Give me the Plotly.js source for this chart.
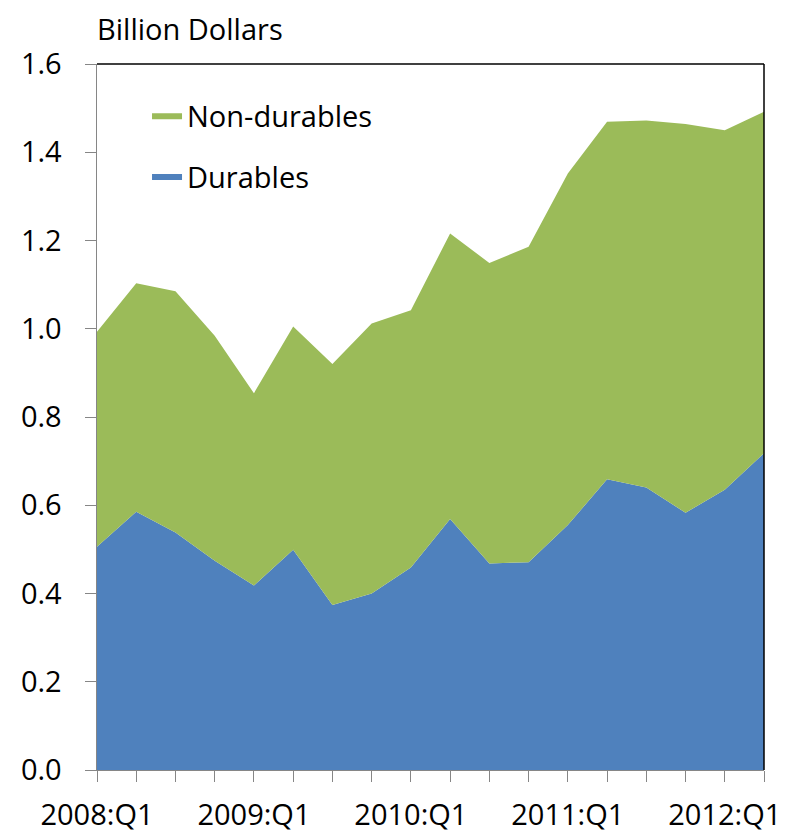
<!DOCTYPE html>
<html>
<head>
<meta charset="utf-8">
<script src="https://cdn.plot.ly/plotly-3.0.1.min.js"></script>
<style>html,body{margin:0;padding:0;background:#fff;}#chart{width:789px;height:834px;}</style>
</head>
<body>
<div id="chart"></div>
<script>
const quarters = ["2008:Q1","2008:Q2","2008:Q3","2008:Q4","2009:Q1","2009:Q2","2009:Q3","2009:Q4",
  "2010:Q1","2010:Q2","2010:Q3","2010:Q4","2011:Q1","2011:Q2","2011:Q3","2011:Q4","2012:Q1","2012:Q2"];
const durables = [0.506,0.585,0.538,0.474,0.418,0.499,0.374,0.400,0.459,0.569,0.468,0.471,0.555,0.659,0.640,0.583,0.635,0.718];
const nonDurables = [0.487,0.518,0.547,0.510,0.436,0.506,0.546,0.612,0.583,0.647,0.681,0.715,0.797,0.810,0.832,0.881,0.815,0.774];
const tickLabels = quarters.map((q,i)=> i%4===0 ? q : "");

const FONT = "'Open Sans', Lato, sans-serif";
const traces = [
  {x: quarters, y: durables, name: "Durables", type: "scatter", mode: "none", legendgroup: "d", legendrank: 2,
   stackgroup: "one", fillcolor: "#4F81BD", hoverinfo: "x+y"},
  {x: quarters, y: nonDurables, name: "Non-durables", type: "scatter", mode: "none", legendgroup: "n", legendrank: 1,
   stackgroup: "one", fillcolor: "#9BBB59", hoverinfo: "x+y"}
];
const layout = {
  width: 789, height: 834,
  margin: {l: 97, r: 25, t: 64, b: 64},
  paper_bgcolor: "#fff", plot_bgcolor: "#fff",
  font: {family: FONT, size: 29, color: "#000"},
  title: {text: "Billion Dollars", font: {family: FONT, size: 29, color: "#000"},
    xref: "paper", x: 0, xanchor: "left", yref: "container", y: 1 - 30/834, yanchor: "middle"},
  xaxis: {type: "category", range: [0, 17], tickmode: "array", tickvals: quarters, ticktext: tickLabels,
    ticks: "outside", ticklen: 11, tickcolor: "#868686", tickwidth: 1,
    showline: true, linecolor: "#868686", linewidth: 1, showgrid: false, zeroline: false,
    tickfont: {family: FONT, size: 29, color: "#000"}, ticklabelstandoff: 8, fixedrange: true},
  yaxis: {range: [0, 1.6], dtick: 0.2, tick0: 0, tickformat: ".1f",
    ticks: "outside", ticklen: 11, tickcolor: "#868686", tickwidth: 1,
    showline: true, linecolor: "#868686", linewidth: 1.5, showgrid: false, zeroline: false,
    tickfont: {family: FONT, size: 29, color: "#000"}, ticklabelstandoff: 17, fixedrange: true},
  showlegend: true,
  legend: {x: 0.075, y: 0.962, xanchor: "left", yanchor: "top", traceorder: "grouped",
    bgcolor: "rgba(0,0,0,0)", font: {family: FONT, size: 29, color: "#000"}, itemwidth: 30, tracegroupgap: 20},
  shapes: [
    {type: "line", xref: "paper", yref: "paper", x0: 0, x1: 1, y0: 1, y1: 1, line: {color: "#000", width: 1.5}},
    {type: "line", xref: "paper", yref: "paper", x0: 1, x1: 1, y0: 0, y1: 1, line: {color: "#000", width: 1.5}}
  ]
};
Plotly.newPlot("chart", traces, layout, {displayModeBar: false, staticPlot: true});
</script>
</body>
</html>
